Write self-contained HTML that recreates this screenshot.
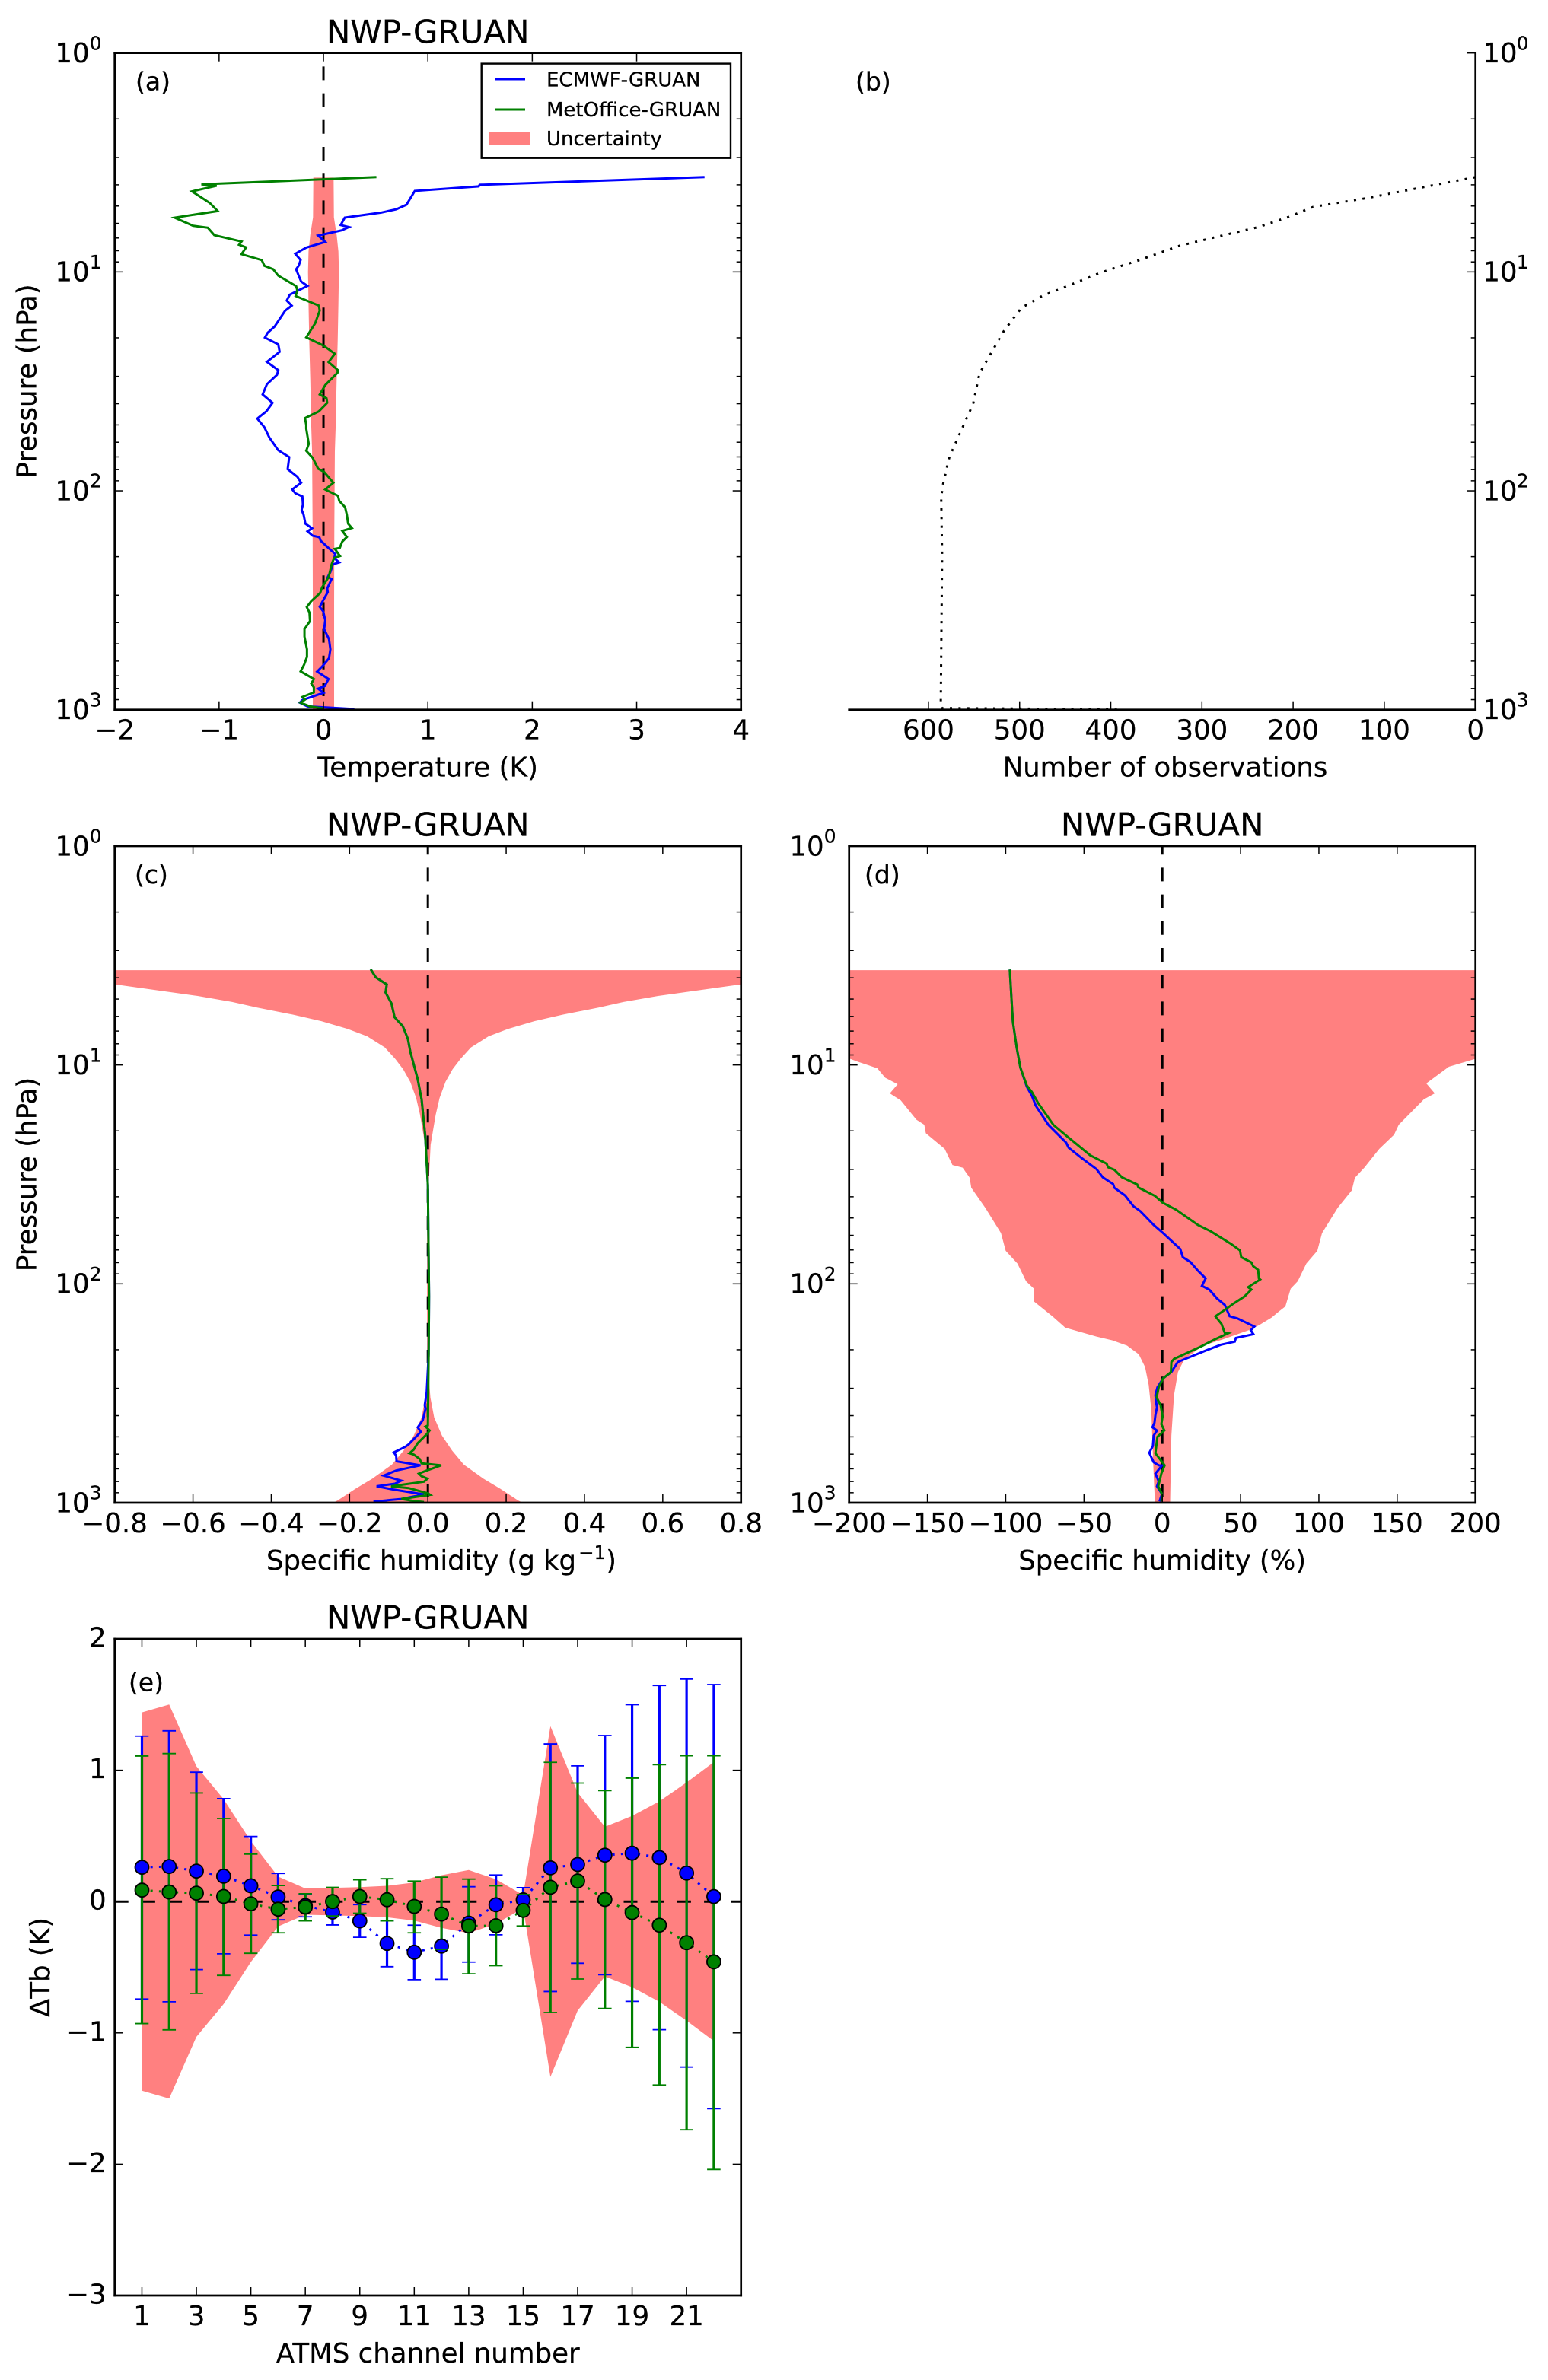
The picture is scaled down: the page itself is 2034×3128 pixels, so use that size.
<!DOCTYPE html>
<html lang="en">
<head>
<meta charset="utf-8">
<title>NWP-GRUAN comparison panels</title>
<style>
html,body{margin:0;padding:0;background:#fff;}
svg{display:block;}
text{font-family:"DejaVu Sans","Liberation Sans",sans-serif;fill:#000;stroke:#000;stroke-width:.25px;}
</style>
</head>
<body>
<svg id="figure" xmlns="http://www.w3.org/2000/svg" width="2034" height="3128" viewBox="0 0 2034 3128">
  <rect x="0" y="0" width="2034" height="3128" fill="#fff"/>
  <defs>
    <clipPath id="clip-a"><rect x="150.7" y="69.7" width="823" height="863"/></clipPath>
    <clipPath id="clip-b"><rect x="1115.7" y="69.7" width="823" height="863"/></clipPath>
    <clipPath id="clip-c"><rect x="150.7" y="1112" width="823" height="863"/></clipPath>
    <clipPath id="clip-d"><rect x="1115.7" y="1112" width="823" height="863"/></clipPath>
    <clipPath id="clip-e"><rect x="150.7" y="2154" width="823" height="863"/></clipPath>
  </defs>

  <g id="panel-a"></g>
  <g id="panel-b"></g>
  <g id="panel-c"></g>
  <g id="panel-d"></g>
  <g id="panel-e"></g>

  <text x="562.2" y="56.4" font-size="42" text-anchor="middle">NWP-GRUAN</text>
  <text x="562.2" y="1098.7" font-size="42" text-anchor="middle">NWP-GRUAN</text>
  <text x="1527.2" y="1098.7" font-size="42" text-anchor="middle">NWP-GRUAN</text>
  <text x="562.2" y="2140.7" font-size="42" text-anchor="middle">NWP-GRUAN</text>

  <text x="178" y="118.7" font-size="33">(a)</text>
  <text x="1124" y="118.7" font-size="33">(b)</text>
  <text x="177" y="1161" font-size="33">(c)</text>
  <text x="1136" y="1161" font-size="33">(d)</text>
  <text x="169" y="2222.7" font-size="33">(e)</text>

  <text x="562.2" y="1020.7" font-size="35.8" text-anchor="middle">Temperature (K)</text>
  <text x="1531" y="1020.7" font-size="35.4" text-anchor="middle">Number of observations</text>
  <text x="350" y="2063" font-size="35.4">Specific humidity (g kg<tspan font-size="24.5" dx="3" dy="-14">−1</tspan><tspan dy="14">)</tspan></text>
  <text x="1527.2" y="2063" font-size="35.4" text-anchor="middle">Specific humidity (%)</text>
  <text x="562.2" y="3105" font-size="35.6" text-anchor="middle">ATMS channel number</text>

  <text transform="translate(47.4 501) rotate(-90)" font-size="35.6" text-anchor="middle">Pressure (hPa)</text>
  <text transform="translate(47.4 1543.5) rotate(-90)" font-size="35.6" text-anchor="middle">Pressure (hPa)</text>
  <text transform="translate(65 2585.5) rotate(-90)" font-size="35.6" text-anchor="middle">ΔTb (K)</text>

  <g>
    <rect x="632.7" y="83.6" width="327.3" height="124.1" fill="#fff" stroke="#000" stroke-width="2.4"/>
    <g>
      <line x1="651" y1="104" x2="690" y2="104" stroke="#0000ff" stroke-width="3"/>
      <text x="718" y="113.5" font-size="26">ECMWF-GRUAN</text>
    </g>
    <g>
      <line x1="651" y1="144" x2="690" y2="144" stroke="#008000" stroke-width="3"/>
      <text x="718" y="153" font-size="26">MetOffice-GRUAN</text>
    </g>
    <g>
      <rect x="643" y="173" width="53" height="18" fill="#ff8080"/>
      <text x="718" y="191" font-size="26">Uncertainty</text>
    </g>
  </g>
</svg>

<script>
/* ---------- Panel (a): temperature difference (K) against log10 pressure (hPa) ---------- */
const tempEcmwfLogP = [.567,.602,.609,.630,.693,.714,.729,.752,.786,.795,.810,.834,.863,.889,.917,.946,.972,.988,1.044,1.064,1.104,1.131,1.154,1.177,1.250,1.278,1.300,1.331,1.365,1.411,1.449,1.470,1.513,1.560,1.598,1.637,1.670,1.710,1.757,1.815,1.846,1.901,1.936,1.963,1.994,2.011,2.026,2.063,2.087,2.110,2.150,2.171,2.185,2.205,2.212,2.228,2.258,2.289,2.307,2.327,2.336,2.371,2.394,2.403,2.446,2.463,2.504,2.530,2.551,2.591,2.632,2.678,2.724,2.765,2.800,2.826,2.860,2.892,2.904,2.923,2.956,2.968,2.985,2.997];
const tempEcmwf = [3.65,1.496,1.487,.875,.795,.697,.552,.204,.165,.243,.175,-.051,.017,-.165,-.270,-.219,-.238,-.262,-.214,-.153,-.323,-.352,-.304,-.367,-.469,-.535,-.561,-.433,-.420,-.542,-.433,-.445,-.542,-.583,-.488,-.547,-.634,-.566,-.518,-.433,-.328,-.343,-.250,-.214,-.299,-.270,-.202,-.197,-.209,-.190,-.173,-.109,-.153,-.104,-.039,-.027,.041,.114,.102,.151,.090,.066,.041,.078,.036,.041,-.007,-.036,-.002,.017,.007,.053,.066,.053,-.007,-.061,.049,.012,-.051,0,-.202,-.226,-.153,.296];
const tempMetOfficeLogP = [.567,.600,.606,.632,.685,.722,.752,.789,.798,.832,.861,.876,.888,.919,.946,.972,.988,1.017,1.065,1.085,1.110,1.154,1.177,1.235,1.299,1.336,1.374,1.412,1.449,1.461,1.517,1.560,1.577,1.598,1.637,1.668,1.699,1.716,1.786,1.817,1.849,1.899,1.913,1.963,1.994,2.023,2.046,2.075,2.110,2.150,2.170,2.183,2.211,2.232,2.261,2.265,2.298,2.307,2.336,2.388,2.400,2.440,2.467,2.504,2.531,2.556,2.595,2.632,2.666,2.724,2.759,2.794,2.825,2.860,2.881,2.898,2.921,2.942,2.954,2.968,2.985,2.994];
const tempMetOffice = [.507,-1.17,-1.023,-1.26,-1.089,-1.013,-1.425,-1.25,-1.108,-1.046,-.785,-.809,-.741,-.785,-.591,-.566,-.481,-.433,-.262,-.250,-.267,-.044,-.036,-.080,-.165,-.002,.109,.049,.139,.134,.017,-.036,.029,.036,-.044,-.177,-.165,-.165,-.141,-.165,-.104,-.051,.005,.095,.017,.139,.151,.207,.224,.236,.272,.180,.224,.180,.156,.109,.158,.102,.078,.053,.041,-.012,-.032,-.117,-.160,-.134,-.129,-.182,-.182,-.158,-.158,-.185,-.219,-.092,-.117,-.092,-.092,-.202,-.177,-.219,-.129,-.007];
const tempUncLogP = [.569,.75,.83,.906,1.0,1.148,1.32,1.496,1.705,1.82,2.17,2.52,3.0];
const tempUncHalfWidth = [.097,.1,.126,.143,.148,.143,.136,.126,.117,.109,.104,.102,.102];
const tempTicks = [-2,-1,0,1,2,3,4];
const tempTickLabels = ['−2','−1','0','1','2','3','4'];

/* ---------- Panel (b): number of observations ---------- */
const obsLogP = [.567,.618,.662,.685,.703,.749,.795,.837,.881,.945,1.003,1.077,1.107,1.164,1.268,1.307,1.464,1.603,1.845,1.971,2.029,2.294,2.986,2.993,2.995,3.0];
const obsCount = [0,64,118,152,178,205,238,281,325,368,411,455,474,498,517,522.5,544,551,577,584,586,585,586.5,585,498,390];
const obsTicks = [600,500,400,300,200,100,0];
const obsTickLabels = ['600','500','400','300','200','100','0'];

/* ---------- Panel (c): specific humidity difference (g/kg) ---------- */
const shEcmwfLogP = [.563,.6,.632,.669,.719,.782,.823,.881,.938,1.065,1.157,1.319,1.549,2.057,2.322,2.496,2.554,2.571,2.623,2.656,2.676,2.733,2.745,2.770,2.785,2.811,2.829,2.853,2.876,2.899,2.913,2.925,2.940,2.962,2.983,2.995];
const shEcmwf = [-.146,-.133,-.105,-.108,-.093,-.085,-.064,-.051,-.045,-.026,-.016,-.007,0,.003,.002,-.003,-.008,-.006,-.013,-.026,-.018,-.049,-.058,-.087,-.081,-.08,-.019,-.081,-.113,-.068,-.084,-.131,-.087,-.01,-.068,-.139];
const shMetOfficeLogP = [.563,.6,.632,.669,.719,.782,.823,.881,.938,1.065,1.157,1.319,1.549,2.057,2.322,2.647,2.652,2.67,2.687,2.728,2.757,2.774,2.78,2.8,2.82,2.829,2.853,2.867,2.879,2.89,2.904,2.925,2.933,2.957,2.964,2.983,2.992,2.997];
const shMetOffice = [-.146,-.133,-.105,-.108,-.093,-.085,-.064,-.051,-.045,-.026,-.016,-.007,0,.003,.002,0,-.006,.0045,-.003,-.026,-.036,-.047,-.036,-.021,-.016,.034,-.003,-.023,-.016,-.001,-.01,-.094,-.049,0,.006,-.068,-.036,-.01];
const shUncLogP = [.567,.60,.632,.685,.712,.738,.77,.80,.835,.869,.92,.973,1.02,1.077,1.15,1.227,1.365,1.549,2.2,2.38,2.44,2.52,2.61,2.693,2.762,2.826,2.89,2.936,2.989,3.0];
const shUncHalfWidth = [1.6,1.2,.8,.588,.5,.436,.345,.272,.205,.155,.11,.083,.063,.045,.03,.02,.007,.002,.002,.002,.003,.0065,.016,.036,.062,.092,.142,.185,.23,.242];
const shTicks = [-.8,-.6,-.4,-.2,0,.2,.4,.6,.8];
const shTickLabels = ['−0.8','−0.6','−0.4','−0.2','0.0','0.2','0.4','0.6','0.8'];

/* ---------- Panel (d): specific humidity difference (%) ---------- */
const pctEcmwfLogP = [.564,.711,.804,.920,1.013,1.1,1.14,1.186,1.274,1.355,1.378,1.424,1.459,1.476,1.513,1.544,1.561,1.596,1.645,1.668,1.731,1.766,1.841,1.878,1.9,1.94,1.975,2.009,2.027,2.067,2.096,2.148,2.158,2.195,2.212,2.23,2.247,2.264,2.278,2.305,2.345,2.357,2.403,2.432,2.473,2.508,2.542,2.565,2.6,2.635,2.655,2.67,2.693,2.74,2.772,2.815,2.829,2.83,2.867,2.902,2.925,2.96,2.994];
const pctEcmwf = [-97.4,-96.2,-95.4,-93,-90.6,-86.5,-83.3,-80.8,-72.7,-61.4,-59.8,-51.7,-45.2,-42,-38,-31.4,-30.6,-23.8,-18.5,-14,-5.5,.2,11.5,13.1,17.9,22.8,27.7,25.3,30.1,35,39.9,43,48,58.8,56.5,58.2,47,46.3,37.4,27.7,13.9,9.9,5.8,.5,-3.1,-4.4,-3.9,-3.4,-4.4,-5,-6.3,-3.4,-5.5,-6,-8.3,-5.5,-2.3,-.2,-4.4,-2.3,-3.4,-.2,-1.8];
const pctMetOfficeLogP = [.564,.711,.804,.920,1.013,1.094,1.123,1.175,1.274,1.332,1.366,1.413,1.451,1.467,1.479,1.513,1.546,1.56,1.598,1.629,1.662,1.731,1.76,1.818,1.847,1.878,1.902,1.919,1.936,1.975,1.98,2.015,2.026,2.058,2.09,2.119,2.148,2.183,2.224,2.226,2.253,2.287,2.343,2.357,2.403,2.432,2.473,2.519,2.554,2.606,2.641,2.67,2.699,2.774,2.829,2.867,2.925,2.96,2.994];
const pctMetOffice = [-97.4,-96.2,-95.4,-93,-90.6,-86.5,-83.3,-79.2,-69.5,-59.8,-54,-46,-35.5,-34.7,-30.6,-25.8,-16,-15.2,-4.7,.2,9,22.8,31,44,49.6,50.4,56.9,58,61.2,61.7,62.5,54.8,56.9,52.4,45.5,39.9,33.9,37.8,39.9,42,33.7,24.5,7.5,5.8,5.5,.5,-2.3,-3.6,-1.1,.2,-.6,1.3,-3.1,-4.4,1.5,-.6,-2.6,-.2,-.6];
const pctUncLeftLogP = [.567,.96,.973,.985,1.015,1.058,1.088,1.13,1.162,1.25,1.273,1.312,1.383,1.457,1.469,1.515,1.561,1.653,1.768,1.849,1.907,1.988,2.022,2.08,2.149,2.2,2.241,2.258,2.282,2.322,2.38,2.461,2.577,2.786,3.0];
const pctUncLeft = [-260,-205,-199,-194.5,-182,-177,-169,-174,-167,-157,-152,-151,-139,-134,-127.5,-123,-122,-113,-103,-100,-92.5,-87,-82,-82,-70,-62,-42,-32,-22.5,-15,-11,-8.7,-7,-6,-4.7];
const pctUncRightLogP = [.567,.96,.973,1.008,1.084,1.13,1.157,1.273,1.319,1.383,1.469,1.515,1.573,1.653,1.768,1.849,1.907,1.988,2.022,2.103,2.125,2.154,2.189,2.212,2.253,2.282,2.345,2.403,2.508,2.693,3.0];
const pctUncRight = [260,205,199.5,183,168.6,174,167,151,148,138.6,129,123,121,112,102,99,92,86.5,82,78.6,74.7,69.8,61.7,55,39,26,14,10,7.5,5.8,5];
const pctTicks = [-200,-150,-100,-50,0,50,100,150,200];
const pctTickLabels = ['−200','−150','−100','−50','0','50','100','150','200'];

/* ---------- Panel (e): brightness temperature differences per ATMS channel ---------- */
const channels = [1,2,3,4,5,6,7,8,9,10,11,12,13,14,15,16,17,18,19,20,21,22];
const tbEcmwf = [.261,.267,.232,.193,.12,.035,-.03,-.08,-.147,-.319,-.386,-.339,-.164,-.024,.013,.257,.282,.353,.368,.335,.217,.038];
const tbEcmwfUpper = [1.26,1.30,.985,.784,.496,.214,.054,.02,-.023,-.147,-.18,-.09,.113,.202,.106,1.2,1.033,1.264,1.499,1.645,1.694,1.652];
const tbEcmwfLower = [-.742,-.763,-.518,-.398,-.255,-.139,-.116,-.178,-.272,-.496,-.595,-.592,-.461,-.253,-.07,-.685,-.47,-.557,-.76,-.976,-1.26,-1.577];
const tbMetOffice = [.087,.073,.064,.039,-.017,-.058,-.042,0,.039,.014,-.037,-.095,-.186,-.184,-.067,.109,.157,.016,-.084,-.18,-.313,-.459];
const tbMetOfficeUpper = [1.108,1.127,.827,.633,.361,.122,.06,.108,.166,.174,.156,.186,.171,.12,.053,1.06,.902,.845,.94,1.042,1.11,1.11];
const tbMetOfficeLower = [-.929,-.977,-.699,-.562,-.394,-.238,-.147,-.11,-.089,-.147,-.238,-.364,-.55,-.488,-.186,-.845,-.59,-.814,-1.11,-1.397,-1.738,-2.04];
const tbUncertainty = [1.44,1.5,1.03,.78,.46,.19,.1,.105,.11,.12,.145,.2,.24,.17,.05,1.335,.83,.57,.652,.763,.907,1.062];
const channelTicks = [1,3,5,7,9,11,13,15,17,19,21];
const channelTickLabels = ['1','3','5','7','9','11','13','15','17','19','21'];
const tbTicks = [2,1,0,-1,-2,-3];
const tbTickLabels = ['2','1','0','−1','−2','−3'];

/* ---------- Shared pressure axis ticks ---------- */
const logTickExponents = [0,1,2,3];
const logTickBase = '10';
const logMinorMultipliers = [2,3,4,5,6,7,8,9];

/* ---------- Geometry and scales ---------- */
const SVG_NS = 'http://www.w3.org/2000/svg';
const BLUE = '#0000ff';
const GREEN = '#008000';

function makePanel(id, left, top, xMin, xMax, yMin, yMax) {
  return {
    id: id, group: document.getElementById('panel-' + id), clip: 'url(#clip-' + id + ')',
    left: left, right: left + 823, top: top, bottom: top + 863,
    xMin: xMin, xMax: xMax, yMin: yMin, yMax: yMax
  };
}
const panelA = makePanel('a', 150.7, 69.7, -2, 4, 0, 3);
const panelB = makePanel('b', 1115.7, 69.7, 687, 0, 0, 3);
const panelC = makePanel('c', 150.7, 1112, -.8, .8, 0, 3);
const panelD = makePanel('d', 1115.7, 1112, -200, 200, 0, 3);
const panelE = makePanel('e', 150.7, 2154, 0, 23, 2, -3);

function xAt(p, v) { return p.left + (v - p.xMin) / (p.xMax - p.xMin) * (p.right - p.left); }
function yAt(p, v) { return p.top + (v - p.yMin) / (p.yMax - p.yMin) * (p.bottom - p.top); }

function make(tag, attrs, parent) {
  const el = document.createElementNS(SVG_NS, tag);
  Object.keys(attrs).forEach(function (k) { el.setAttribute(k, attrs[k]); });
  parent.appendChild(el);
  return el;
}

function pathFrom(p, xs, ys) {
  return xs.map(function (x, i) {
    return (i ? 'L' : 'M') + xAt(p, x).toFixed(2) + ' ' + yAt(p, ys[i]).toFixed(2);
  }).join('');
}

/* ---------- Mark drawers ---------- */
function drawBand(p, lowerX, lowerLogP, upperX, upperLogP) {
  const d = pathFrom(p, lowerX.concat(upperX.slice().reverse()), lowerLogP.concat(upperLogP.slice().reverse())) + 'Z';
  const band = make('path', { d: d, fill: '#ff8080', stroke: 'none', 'clip-path': p.clip }, p.group);
  
  
}

function drawSeries(p, xs, ys, color, name) {
  const line = make('path', { d: pathFrom(p, xs, ys), fill: 'none', stroke: color, 'stroke-width': 3, 'stroke-linejoin': 'miter', 'clip-path': p.clip }, p.group);
  
  
}

function drawZeroVertical(p, dashBottom) {
  const x = xAt(p, 0);
  const zero = make('line', { x1: x, x2: x, y1: dashBottom, y2: p.top, stroke: '#000', 'stroke-width': 3, 'stroke-dasharray': '18 17.2', 'clip-path': p.clip }, p.group);
  
  
}

function drawFrame(p, sides) {
  const ends = {
    left: [p.left, p.top, p.left, p.bottom],
    right: [p.right, p.top, p.right, p.bottom],
    top: [p.left, p.top, p.right, p.top],
    bottom: [p.left, p.bottom, p.right, p.bottom]
  };
  sides.forEach(function (side) {
    const c = ends[side];
    const spine = make('line', { x1: c[0], y1: c[1], x2: c[2], y2: c[3], stroke: '#000', 'stroke-width': 2.7, 'stroke-linecap': 'square' }, p.group);
    
    
  });
}

function drawXTicks(p, ticks, labels, withTop) {
  ticks.forEach(function (v, i) {
    const x = xAt(p, v);
    const tick = make('line', { x1: x, x2: x, y1: p.bottom, y2: p.bottom - 11, stroke: '#000', 'stroke-width': 1.5 }, p.group);
    
    
    if (withTop) {
      const topTick = make('line', { x1: x, x2: x, y1: p.top, y2: p.top + 11, stroke: '#000', 'stroke-width': 1.5 }, p.group);
      
      
    }
    const label = make('text', { x: x, y: p.bottom + 39, 'font-size': 35.6, 'text-anchor': 'middle' }, p.group);
    label.textContent = labels[i];
    
    
  });
}

function drawYTickMark(p, y, len, side) {
  const x0 = side === 'left' ? p.left : p.right;
  const x1 = side === 'left' ? p.left + len : p.right - len;
  const tick = make('line', { x1: x0, x2: x1, y1: y, y2: y, stroke: '#000', 'stroke-width': 1.5 }, p.group);
  
  
}

function drawLogYAxis(p, tickSides, labelSide) {
  logTickExponents.forEach(function (e) {
    const y = yAt(p, e);
    tickSides.forEach(function (s) { drawYTickMark(p, y, 11, s); });
    const mainX = labelSide === 'left' ? p.left - 33 : p.right + 9.5;
    const supX = labelSide === 'left' ? p.left - 33 : p.right + 54;
    const base = make('text', { x: mainX, y: y + 12.3, 'font-size': 35.6, 'text-anchor': labelSide === 'left' ? 'end' : 'start' }, p.group);
    base.textContent = logTickBase;
    
    
    const sup = make('text', { x: supX, y: y - 4.3, 'font-size': 24.8 }, p.group);
    sup.textContent = String(e);
    
    
    if (e < logTickExponents[logTickExponents.length - 1]) {
      logMinorMultipliers.forEach(function (m) {
        const ym = yAt(p, e + Math.log10(m));
        tickSides.forEach(function (s) { drawYTickMark(p, ym, 6, s); });
      });
    }
  });
}

function negate(values) { return values.map(function (v) { return -v; }); }

/* ---------- Panel (a) ---------- */
drawBand(panelA, negate(tempUncHalfWidth), tempUncLogP, tempUncHalfWidth, tempUncLogP);
drawZeroVertical(panelA, 950.2);
drawSeries(panelA, tempEcmwf, tempEcmwfLogP, BLUE, 'ecmwf-temperature-line');
drawSeries(panelA, tempMetOffice, tempMetOfficeLogP, GREEN, 'metoffice-temperature-line');
drawFrame(panelA, ['left', 'right', 'top', 'bottom']);
drawXTicks(panelA, tempTicks, tempTickLabels, true);
drawLogYAxis(panelA, ['left', 'right'], 'left');

/* ---------- Panel (b) ---------- */
const obsLine = make('path', { d: pathFrom(panelB, obsCount, obsLogP), fill: 'none', stroke: '#000', 'stroke-width': 3, 'stroke-dasharray': '3 8.4', 'clip-path': panelB.clip }, panelB.group);


drawFrame(panelB, ['right', 'bottom']);
drawXTicks(panelB, obsTicks, obsTickLabels, false);
drawLogYAxis(panelB, ['right'], 'right');

/* ---------- Panel (c) ---------- */
drawBand(panelC, negate(shUncHalfWidth), shUncLogP, shUncHalfWidth, shUncLogP);
drawZeroVertical(panelC, 2003.2);
drawSeries(panelC, shEcmwf, shEcmwfLogP, BLUE, 'ecmwf-humidity-line');
drawSeries(panelC, shMetOffice, shMetOfficeLogP, GREEN, 'metoffice-humidity-line');
drawFrame(panelC, ['left', 'right', 'top', 'bottom']);
drawXTicks(panelC, shTicks, shTickLabels, true);
drawLogYAxis(panelC, ['left', 'right'], 'left');

/* ---------- Panel (d) ---------- */
drawBand(panelD, pctUncLeft, pctUncLeftLogP, pctUncRight, pctUncRightLogP);
drawZeroVertical(panelD, 2003.2);
drawSeries(panelD, pctEcmwf, pctEcmwfLogP, BLUE, 'ecmwf-humidity-percent-line');
drawSeries(panelD, pctMetOffice, pctMetOfficeLogP, GREEN, 'metoffice-humidity-percent-line');
drawFrame(panelD, ['left', 'right', 'top', 'bottom']);
drawXTicks(panelD, pctTicks, pctTickLabels, true);
drawLogYAxis(panelD, ['left', 'right'], 'left');

/* ---------- Panel (e) ---------- */
function drawErrorBars(p, upper, lower, color) {
  channels.forEach(function (ch, i) {
    const x = xAt(p, ch);
    const bar = make('line', { x1: x, x2: x, y1: yAt(p, upper[i]), y2: yAt(p, lower[i]), stroke: color, 'stroke-width': 3.2 }, p.group);
    
    
  });
}
function drawErrorCaps(p, upper, lower, color) {
  channels.forEach(function (ch, i) {
    [upper[i], lower[i]].forEach(function (v) {
      const x = xAt(p, ch);
      const cap = make('line', { x1: x - 8.8, x2: x + 8.8, y1: yAt(p, v), y2: yAt(p, v), stroke: color, 'stroke-width': 1.8 }, p.group);
      
      
    });
  });
}
function drawPoints(p, values, color) {
  const dotted = make('path', { d: pathFrom(p, channels, values), fill: 'none', stroke: color, 'stroke-width': 3, 'stroke-dasharray': '3 8.2', 'clip-path': p.clip }, p.group);
  
  
  channels.forEach(function (ch, i) {
    const dot = make('circle', { cx: xAt(p, ch), cy: yAt(p, values[i]), r: 9, fill: color, stroke: '#000', 'stroke-width': 1.8 }, p.group);
    
    
  });
}

drawBand(panelE, channels, tbUncertainty, channels, negate(tbUncertainty));
const zeroH = make('line', { x1: panelE.left, x2: panelE.right, y1: yAt(panelE, 0), y2: yAt(panelE, 0), stroke: '#000', 'stroke-width': 3, 'stroke-dasharray': '18 17.2', 'clip-path': panelE.clip }, panelE.group);


drawErrorBars(panelE, tbEcmwfUpper, tbEcmwfLower, BLUE);
drawErrorCaps(panelE, tbEcmwfUpper, tbEcmwfLower, BLUE);
drawErrorBars(panelE, tbMetOfficeUpper, tbMetOfficeLower, GREEN);
drawPoints(panelE, tbEcmwf, BLUE);
drawErrorCaps(panelE, tbMetOfficeUpper, tbMetOfficeLower, GREEN);
drawPoints(panelE, tbMetOffice, GREEN);
drawFrame(panelE, ['left', 'right', 'top', 'bottom']);
drawXTicks(panelE, channelTicks, channelTickLabels, true);
tbTicks.forEach(function (v, i) {
  const y = yAt(panelE, v);
  drawYTickMark(panelE, y, 11, 'left');
  drawYTickMark(panelE, y, 11, 'right');
  const label = make('text', { x: panelE.left - 11, y: y + 10.5, 'font-size': 35.6, 'text-anchor': 'end' }, panelE.group);
  label.textContent = tbTickLabels[i];
  
  
});
</script>
</body>
</html>
